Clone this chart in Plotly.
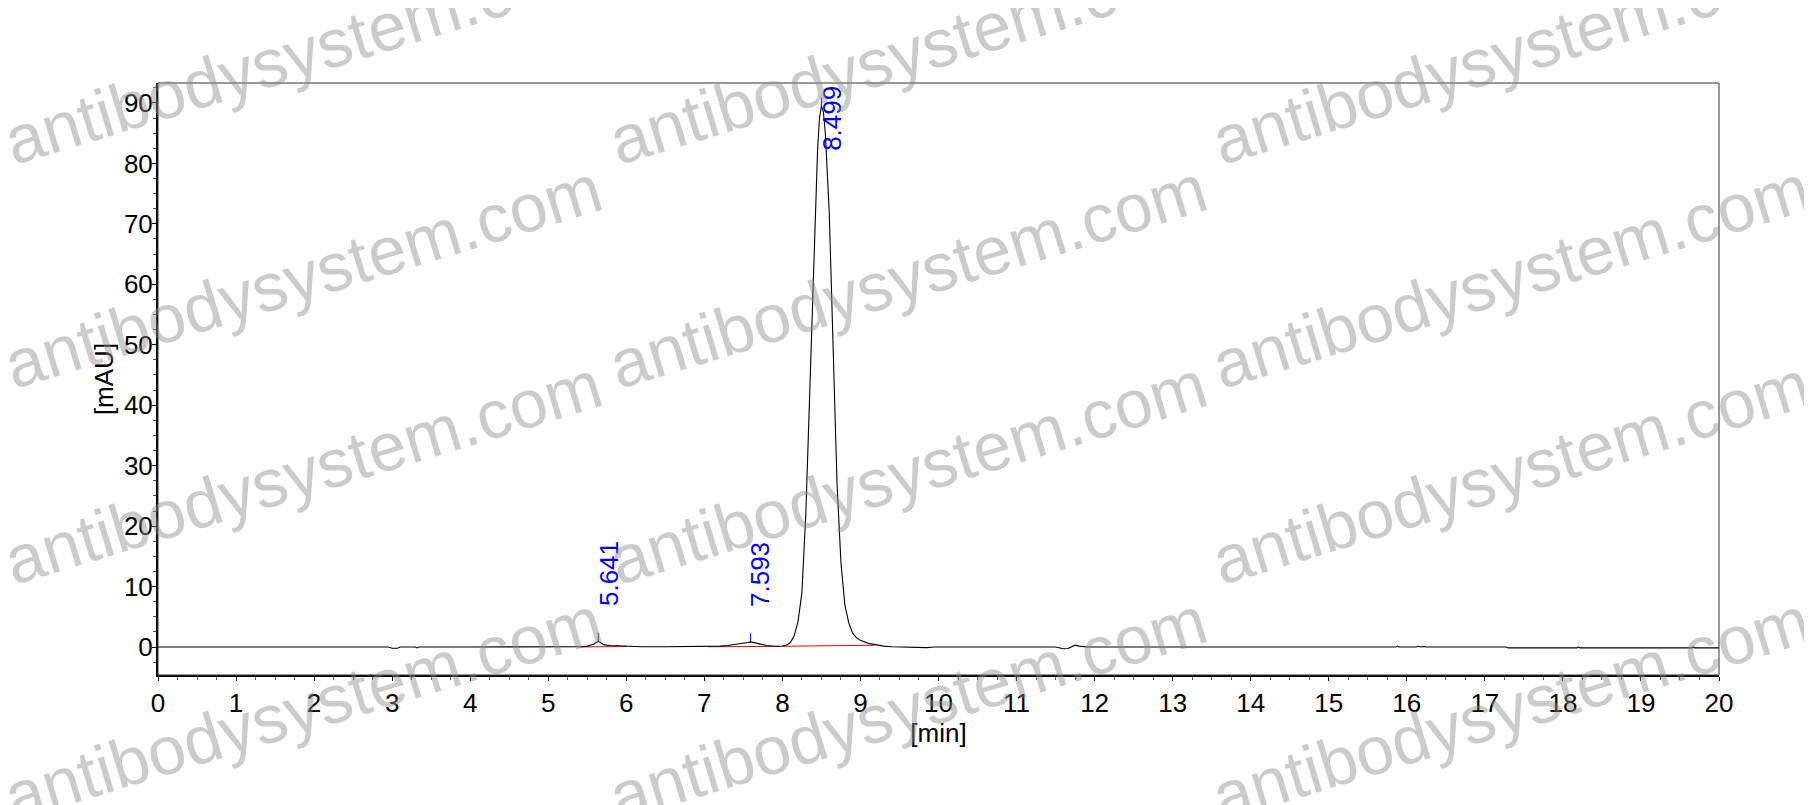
import plotly.graph_objects as go

# ---- data ----
time_min = [0.0, 0.5, 1.0, 1.5, 2.0, 2.5, 2.95, 3.0, 3.07, 3.1, 3.3, 3.32, 3.34, 4.0, 4.5,
            5.0, 5.3, 5.43, 5.5, 5.58, 5.62, 5.641, 5.67, 5.72, 5.8, 5.9, 6.0, 6.2, 6.5, 6.8,
            7.0, 7.1, 7.2, 7.3, 7.4, 7.5, 7.56, 7.593, 7.65, 7.72, 7.8, 7.9, 7.95, 8.0, 8.05,
            8.10, 8.15, 8.20, 8.25, 8.30, 8.35, 8.40, 8.45, 8.475, 8.50, 8.525, 8.55, 8.60,
            8.65, 8.70, 8.75, 8.80, 8.85, 8.90, 8.95, 9.00, 9.10, 9.20, 9.30, 9.40, 9.6,
            9.75, 9.85, 9.95, 10.3, 10.4, 10.5, 11.0, 11.4, 11.45, 11.5, 11.6, 11.66, 11.75,
            11.8, 11.9, 12.0, 13.0, 14.0, 15.0, 15.86, 15.88, 15.9, 16.12, 16.15, 16.18,
            16.22, 16.25, 17.0, 17.27, 17.3, 18.0, 18.18, 18.2, 18.22, 19.0, 19.65, 19.67,
            19.69, 20.0]
signal_mau = [0.0, 0.0, 0.0, 0.0, 0.0, 0.0, 0.0, -0.2, -0.2, 0.0, 0.0, -0.15, 0.0, 0.0, 0.0,
              0.0, 0.0, 0.05, 0.15, 0.45, 0.8, 0.95, 0.7, 0.35, 0.25, 0.2, 0.12, 0.05, 0.05, 0.05,
              0.05, 0.1, 0.15, 0.25, 0.4, 0.6, 0.75, 0.85, 0.7, 0.45, 0.25, 0.12, 0.1, 0.15, 0.3,
              0.7, 1.8, 4.2, 9.0, 22.0, 42.0, 64.0, 82.0, 87.5, 89.5, 88.5, 85.0, 72.0,
              48.0, 27.0, 14.0, 7.0, 4.0, 2.3, 1.5, 1.1, 0.6, 0.35, 0.15, 0.05, 0.0,
              -0.1, -0.1, 0.0, 0.0, 0.1, 0.0, 0.0, 0.0, 0.1, 0.0, -0.3, -0.25, 0.3,
              0.15, 0.0, 0.0, 0.0, 0.0, 0.0, 0.0, 0.15, 0.0, 0.0, 0.12, 0.0,
              0.1, 0.0, 0.0, 0.0, -0.15, -0.15, -0.15, 0.0, -0.15, -0.15, -0.15, 0.0,
              -0.15, -0.15]

peak_labels = ["5.641", "7.593", "8.499"]
peak_times = [5.641, 7.593, 8.499]
peak_heights = [0.95, 0.85, 89.5]

baseline_start_t = [5.41, 7.05, 8.01]
baseline_start_v = [0.0, 0.05, 0.12]
baseline_end_t = [6.01, 7.97, 9.19]
baseline_end_v = [0.1, 0.1, 0.3]

x_ticks = list(range(0, 21))
y_ticks = [0, 10, 20, 30, 40, 50, 60, 70, 80, 90]

# ---- figure ----
PAGE_OFF = 8                 # default body margin of the html page
W, H = 1812 - PAGE_OFF, 805 - PAGE_OFF
ML, MR, MT, MB = 150, 93, 75, 130
Y_MIN, Y_MAX = -4.63, 93.3
FONT = "Arial, Liberation Sans, sans-serif"
TICK_SIZE = 26

fig = go.Figure()

# integration baselines (red)
for t0, v0, t1, v1 in zip(baseline_start_t, baseline_start_v, baseline_end_t, baseline_end_v):
    fig.add_trace(go.Scatter(x=[t0, t1], y=[v0, v1], mode="lines",
                             line=dict(color="#ff0000", width=1), hoverinfo="skip",
                             showlegend=False))

# chromatogram
fig.add_trace(go.Scatter(x=time_min, y=signal_mau, mode="lines",
                         line=dict(color="#000000", width=1.1), showlegend=False))

# peak apex markers and labels
annotations = []
for lab, t, h in zip(peak_labels, peak_times, peak_heights):
    fig.add_trace(go.Scatter(x=[t, t], y=[h, h + 1.4], mode="lines",
                             line=dict(color="#0000ff", width=1), hoverinfo="skip",
                             showlegend=False))
    if h + 12 > Y_MAX:
        annotations.append(dict(x=t, y=Y_MAX, xref="x", yref="y", text=lab,
                                textangle=-90, showarrow=False, xanchor="center",
                                yanchor="top", xshift=10, yshift=-1,
                                font=dict(family=FONT, size=26, color="#0000ff")))
    else:
        annotations.append(dict(x=t, y=h, xref="x", yref="y", text=lab,
                                textangle=-90, showarrow=False, xanchor="center",
                                yanchor="bottom", xshift=10, yshift=33,
                                font=dict(family=FONT, size=26, color="#0000ff")))

# watermark (page pixel positions of text centres)
pw = W - ML - MR
ph = H - MT - MB
px0 = ML + PAGE_OFF
py_bottom = H - MB + PAGE_OFF
wm_cols = [303, 908, 1511]
wm_rows = [52, 276, 472, 708]
for cx in wm_cols:
    for cy in wm_rows:
        annotations.append(dict(x=(cx - px0) / pw, y=(py_bottom - cy) / ph,
                                xref="paper", yref="paper",
                                text="antibodysystem.com", showarrow=False, textangle=-17,
                                xanchor="center", yanchor="middle",
                                font=dict(family=FONT, size=68, color="rgba(140,140,140,0.45)")))

fig.update_layout(
    width=W, height=H,
    margin=dict(l=ML, r=MR, t=MT, b=MB),
    paper_bgcolor="white", plot_bgcolor="white",
    font=dict(family=FONT, size=TICK_SIZE, color="black"),
    annotations=annotations,
    shapes=[dict(type="rect", xref="paper", yref="paper", x0=0, y0=0, x1=1, y1=1,
                 line=dict(color="#333333", width=1))],
)

fig.update_xaxes(range=[0, 20], tickvals=x_ticks, ticktext=[str(v) for v in x_ticks],
                 showgrid=False, zeroline=False, showline=True, linecolor="black", linewidth=2,
                 ticks="outside", ticklen=4, tickwidth=1, tickcolor="black",
                 minor=dict(dtick=0.25, ticks="outside", ticklen=3, tickcolor="#555555", showgrid=False),
                 tickfont=dict(family=FONT, size=TICK_SIZE, color="black"), ticklabelstandoff=0,
                 title=dict(text="[min]", font=dict(family=FONT, size=TICK_SIZE, color="black"), standoff=1))
fig.update_yaxes(range=[Y_MIN, Y_MAX], tickvals=y_ticks, ticktext=[str(v) for v in y_ticks],
                 showgrid=False, zeroline=False, showline=True, linecolor="black", linewidth=2,
                 ticks="outside", ticklen=4, tickwidth=1, tickcolor="black",
                 minor=dict(dtick=2.5, ticks="outside", ticklen=3, tickcolor="#555555", showgrid=False),
                 tickfont=dict(family=FONT, size=TICK_SIZE, color="black"), ticklabelstandoff=-6,
                 title=dict(text="[mAU]", font=dict(family=FONT, size=TICK_SIZE, color="black"), standoff=3))

fig.write_html("out.html")
